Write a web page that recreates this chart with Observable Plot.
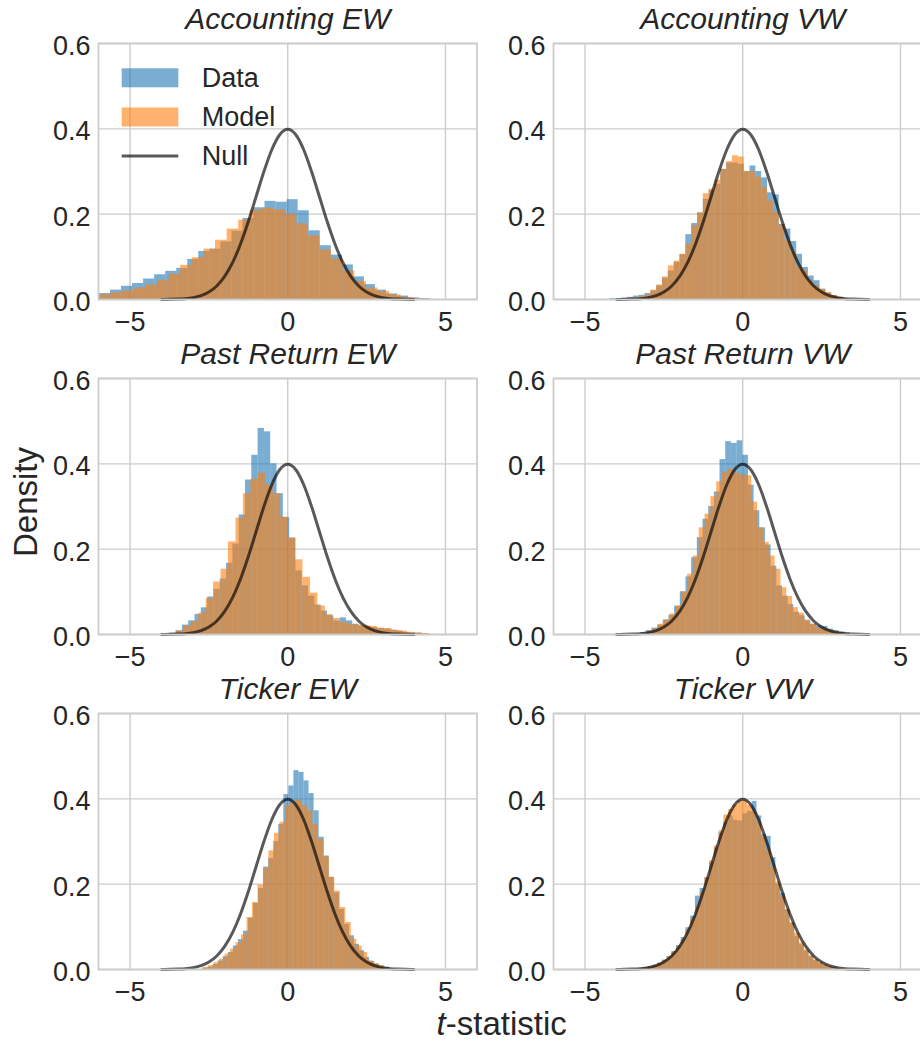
<!DOCTYPE html>
<html><head><meta charset="utf-8">
<script src="https://cdn.jsdelivr.net/npm/d3@7"></script>
<script src="https://cdn.jsdelivr.net/npm/@observablehq/plot@0.6"></script>
<style>
html,body{margin:0;padding:0;background:#fff;overflow:hidden;}
#fig{position:relative;width:920px;height:1043px;overflow:hidden;font-family:"Liberation Sans",Arial,sans-serif;color:#262626;background:#fff;}
.panel{position:absolute;}
</style></head><body><div id="fig"></div>
<script>
// ---------- data ----------
const titles = ["Accounting EW","Accounting VW","Past Return EW","Past Return VW","Ticker EW","Ticker VW"];
const seriesNames = ["Data","Model","Null"];
const xTicks = [-5, 0, 5];
const yTicks = [0.0, 0.2, 0.4, 0.6];

// Accounting EW
const accEW_dataStart = -5.97, accEW_dataWidth = 0.35;
const accEW_data = [0.014,0.022,0.031,0.0375,0.048,0.058,0.066,0.073,0.094,0.1125,0.118,0.135,0.16,0.19,0.215,0.23,0.228,0.234,0.208,0.161,0.126,0.104,0.081,0.053,0.035,0.022,0.013,0.008,0.004,0.002];
const accEW_modelStart = -5.97, accEW_modelWidth = 0.368;
const accEW_model = [0.011,0.016,0.02,0.027,0.034,0.045,0.059,0.08,0.098,0.118,0.139,0.165,0.186,0.209,0.214,0.21,0.2,0.177,0.149,0.116,0.095,0.067,0.042,0.027,0.019,0.011,0.005,0.002];

// Accounting VW
const accVW_dataStart = -4.21, accVW_dataWidth = 0.185;
const accVW_data = [0.002,0.001,0.003,0.005,0.008,0.010,0.014,0.020,0.032,0.050,0.067,0.087,0.105,0.152,0.178,0.202,0.235,0.255,0.27,0.305,0.32,0.32,0.317,0.30,0.313,0.30,0.285,0.25,0.245,0.176,0.165,0.136,0.106,0.075,0.055,0.044,0.024,0.015,0.009,0.005,0.002];
const accVW_modelStart = -3.655, accVW_modelWidth = 0.185;
const accVW_model = [0.002,0.004,0.007,0.011,0.022,0.034,0.053,0.079,0.09,0.106,0.13,0.173,0.204,0.248,0.259,0.28,0.305,0.323,0.337,0.334,0.30,0.30,0.286,0.262,0.231,0.204,0.173,0.1375,0.11,0.077,0.067,0.044,0.032,0.024,0.016,0.009,0.005,0.002];

// Past Return EW
const prEW_dataStart = -3.74, prEW_dataWidth = 0.2;
const prEW_data = [0.003,0.009,0.022,0.032,0.047,0.0625,0.088,0.106,0.13,0.167,0.212,0.28,0.362,0.42,0.483,0.475,0.40,0.33,0.274,0.226,0.149,0.114,0.09,0.069,0.055,0.044,0.032,0.039,0.032,0.024,0.02,0.019,0.016,0.014,0.0125,0.01,0.008,0.005,0.004,0.003,0.0015];
const prEW_modelStart = -3.53, prEW_modelWidth = 0.236;
const prEW_model = [0.008,0.02,0.03,0.05,0.084,0.123,0.153,0.217,0.273,0.33,0.364,0.378,0.35,0.33,0.275,0.226,0.175,0.134,0.097,0.067,0.047,0.0375,0.028,0.024,0.022,0.02,0.019,0.015,0.014,0.01,0.008,0.005,0.004,0.002];

// Past Return VW
const prVW_dataStart = -3.42, prVW_dataWidth = 0.18;
const prVW_data = [0.002,0.004,0.009,0.015,0.022,0.034,0.045,0.066,0.1,0.135,0.18,0.227,0.27,0.3,0.334,0.41,0.452,0.448,0.454,0.42,0.35,0.29,0.25,0.21,0.16,0.114,0.09,0.07,0.052,0.044,0.032,0.024,0.02,0.019,0.0125,0.009,0.006,0.004];
const prVW_modelStart = -3.23, prVW_modelWidth = 0.185;
const prVW_model = [0.002,0.006,0.0125,0.024,0.034,0.048,0.067,0.1,0.141,0.184,0.25,0.282,0.323,0.358,0.38,0.387,0.378,0.373,0.372,0.31,0.25,0.216,0.184,0.153,0.11,0.089,0.063,0.05,0.034,0.024,0.016,0.0125,0.009,0.006,0.005,0.002];

// Ticker EW
const tkEW_dataStart = -2.684, tkEW_dataWidth = 0.16;
const tkEW_data = [0.003,0.006,0.012,0.02,0.03,0.04,0.055,0.07,0.09,0.12,0.155,0.19,0.24,0.26,0.30,0.34,0.41,0.43,0.466,0.462,0.442,0.4125,0.372,0.31,0.266,0.216,0.18,0.141,0.106,0.079,0.059,0.044,0.028,0.019,0.0125,0.008,0.005,0.002];
const tkEW_modelStart = -2.684, tkEW_modelWidth = 0.174;
const tkEW_model = [0.005,0.009,0.016,0.024,0.036,0.048,0.063,0.081,0.122,0.157,0.198,0.2375,0.278,0.319,0.345,0.384,0.391,0.397,0.384,0.372,0.34,0.305,0.264,0.216,0.184,0.145,0.11,0.071,0.055,0.04,0.02,0.014,0.009,0.005,0.0015];

// Ticker VW
const tkVW_dataStart = -3.6, tkVW_dataWidth = 0.15;
const tkVW_data = [0.001,0.0015,0.003,0.004,0.007,0.010,0.015,0.022,0.03,0.042,0.056,0.075,0.098,0.125,0.172,0.19,0.215,0.25,0.285,0.32,0.345,0.36,0.35,0.348,0.365,0.37,0.394,0.36,0.317,0.312,0.262,0.2,0.178,0.14,0.108,0.078,0.058,0.043,0.031,0.021,0.014,0.009,0.006,0.004,0.002,0.001];
const tkVW_modelStart = -3.6, tkVW_modelWidth = 0.15;
const tkVW_model = [0.001,0.0015,0.002,0.004,0.006,0.009,0.013,0.02,0.03,0.04,0.053,0.07,0.092,0.118,0.148,0.18,0.215,0.255,0.29,0.325,0.362,0.375,0.385,0.395,0.395,0.385,0.37,0.345,0.31,0.28,0.24,0.205,0.17,0.14,0.11,0.085,0.063,0.046,0.032,0.023,0.016,0.011,0.007,0.004,0.0025,0.0015];

// Null curve
const nullX = [-4,-3.75,-3.5,-3.25,-3,-2.75,-2.5,-2.25,-2,-1.75,-1.5,-1.25,-1,-0.75,-0.5,-0.25,0,0.25,0.5,0.75,1,1.25,1.5,1.75,2,2.25,2.5,2.75,3,3.25,3.5,3.75,4];
const nullY = [0.0001,0.0004,0.0009,0.0020,0.0044,0.0091,0.0175,0.0317,0.0540,0.0863,0.1295,0.1826,0.2420,0.3011,0.3521,0.3867,0.3989,0.3867,0.3521,0.3011,0.2420,0.1826,0.1295,0.0863,0.0540,0.0317,0.0175,0.0091,0.0044,0.0020,0.0009,0.0004,0.0001];

// ---------- layout ----------
const FONT = '"Liberation Sans", Arial, Helvetica, sans-serif';
const TEXT = "#262626";
const GRID = "#cccccc";
const BLUE = "#1f77b4", ORANGE = "#ff7f0e";
const colLeft = [97.5, 552.5];
const rowTop = [42.7, 377.7, 712.7];
const IW = 378.5, IH = 256;
const ML = 80, MR = 2, MT = 50, MB = 50;
const TICK_FS = 27;

function bins(start, width, heights) {
  return heights.map((h, i) => ({x1: start + i * width, x2: start + (i + 1) * width, y: h}));
}
const nullPts = nullX.map((x, i) => ({x, y: nullY[i]}));

const panels = [
  {t: titles[0], c: 0, r: 0, d: bins(accEW_dataStart, accEW_dataWidth, accEW_data), m: bins(accEW_modelStart, accEW_modelWidth, accEW_model)},
  {t: titles[1], c: 1, r: 0, d: bins(accVW_dataStart, accVW_dataWidth, accVW_data), m: bins(accVW_modelStart, accVW_modelWidth, accVW_model)},
  {t: titles[2], c: 0, r: 1, d: bins(prEW_dataStart, prEW_dataWidth, prEW_data), m: bins(prEW_modelStart, prEW_modelWidth, prEW_model)},
  {t: titles[3], c: 1, r: 1, d: bins(prVW_dataStart, prVW_dataWidth, prVW_data), m: bins(prVW_modelStart, prVW_modelWidth, prVW_model)},
  {t: titles[4], c: 0, r: 2, d: bins(tkEW_dataStart, tkEW_dataWidth, tkEW_data), m: bins(tkEW_modelStart, tkEW_modelWidth, tkEW_model)},
  {t: titles[5], c: 1, r: 2, d: bins(tkVW_dataStart, tkVW_dataWidth, tkVW_data), m: bins(tkVW_modelStart, tkVW_modelWidth, tkVW_model)}
];

const fig = document.getElementById("fig");
for (const p of panels) {
  const chart = Plot.plot({
    width: ML + IW + MR, height: MT + IH + MB,
    marginLeft: ML, marginRight: MR, marginTop: MT, marginBottom: MB,
    x: {domain: [-6, 6], label: null},
    y: {domain: [0, 0.6], label: null},
    style: {fontFamily: FONT, fontSize: TICK_FS + "px", color: TEXT, background: "transparent", overflow: "visible"},
    marks: [
      Plot.gridX(xTicks, {stroke: GRID, strokeOpacity: 1, strokeWidth: 1.4}),
      Plot.gridY(yTicks, {stroke: GRID, strokeOpacity: 1, strokeWidth: 1.4}),
      Plot.rectY(p.d, {x1: "x1", x2: "x2", y: "y", fill: BLUE, fillOpacity: 0.6, clip: true}),
      Plot.rectY(p.m, {x1: "x1", x2: "x2", y: "y", fill: ORANGE, fillOpacity: 0.6, clip: true}),
      Plot.line(nullPts, {x: "x", y: "y", stroke: "#000", strokeOpacity: 0.65, strokeWidth: 3, curve: "monotone-x"}),
      Plot.frame({stroke: GRID, strokeWidth: 1.8}),
      Plot.axisX(xTicks, {tickSize: 0, tickPadding: 12, label: null, fontSize: TICK_FS}),
      Plot.axisY(yTicks, {tickSize: 0, tickPadding: 8, tickFormat: d3.format(".1f"), label: null, dy: 3, fontSize: TICK_FS}),
      Plot.text([p.t], {frameAnchor: "top", dy: -14.7, lineAnchor: "bottom", fontSize: 30, fontStyle: "italic", fill: TEXT})
    ]
  });
  chart.classList.add("panel");
  chart.style.left = (colLeft[p.c] - ML) + "px";
  chart.style.top = (rowTop[p.r] - MT) + "px";
  fig.appendChild(chart);
}

// ---------- legend and shared labels ----------
const ov = d3.select(fig).append("svg")
  .attr("width", 920).attr("height", 1043)
  .style("position", "absolute").style("left", "0px").style("top", "0px")
  .style("font-family", FONT).style("pointer-events", "none");
ov.append("rect").attr("x", 121.7).attr("y", 68.3).attr("width", 56.6).attr("height", 19).attr("fill", BLUE).attr("fill-opacity", 0.6);
ov.append("rect").attr("x", 121.7).attr("y", 107.5).attr("width", 56.6).attr("height", 19).attr("fill", ORANGE).attr("fill-opacity", 0.6);
ov.append("line").attr("x1", 121.7).attr("x2", 178.3).attr("y1", 156).attr("y2", 156).attr("stroke", "#000").attr("stroke-opacity", 0.65).attr("stroke-width", 3);
[[86.7, seriesNames[0]], [126, seriesNames[1]], [165, seriesNames[2]]].forEach(([y, s]) => {
  ov.append("text").attr("x", 201.7).attr("y", y).attr("font-size", 27).attr("fill", TEXT).text(s);
});
ov.append("text").attr("transform", "translate(36.5,502) rotate(-90)").attr("text-anchor", "middle")
  .attr("font-size", 33).attr("fill", TEXT).text("Density");
const xl = ov.append("text").attr("x", 501.7).attr("y", 1035).attr("text-anchor", "middle").attr("font-size", 33).attr("fill", TEXT);
xl.append("tspan").attr("font-style", "italic").text("t");
xl.append("tspan").text("-statistic");
</script></body></html>
